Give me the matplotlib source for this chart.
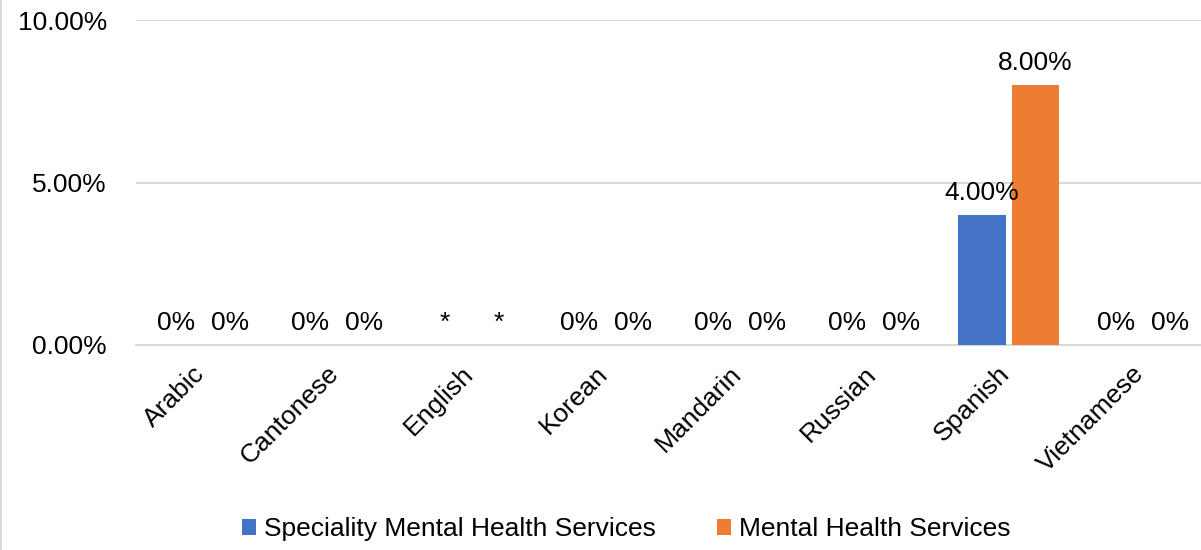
import numpy as np
import matplotlib
matplotlib.use("Agg")
import matplotlib.pyplot as plt
import matplotlib.patches as patches
from matplotlib.lines import Line2D

plt.rcParams['font.family'] = ['Liberation Sans', 'DejaVu Sans']

# share of members by language (percent); None = suppressed, shown as "*"
languages = ['Arabic', 'Cantonese', 'English', 'Korean', 'Mandarin', 'Russian', 'Spanish', 'Vietnamese']
speciality = [0, 0, None, 0, 0, 0, 4.0, 0]
mental_health = [0, 0, None, 0, 0, 0, 8.0, 0]
series_names = ['Speciality Mental Health Services', 'Mental Health Services']
series_colors = ['#4472c4', '#ed7d31']
y_ticks = [0, 5, 10]

FS = 19


def label_text(v):
    if v is None:
        return '*'
    if v == 0:
        return '0%'
    return f'{v:.2f}%'


fig = plt.figure(figsize=(12.01, 5.5), dpi=100)
ax = fig.add_axes([136 / 1201, 1 - 345 / 550, 1074 / 1201, 325 / 550])

x = np.arange(len(languages))
width = 0.357
offsets = [-0.2, 0.2]

for vals, off, col in zip([speciality, mental_health], offsets, series_colors):
    heights = [0 if v is None else v for v in vals]
    ax.bar(x + off, heights, width=width, color=col, zorder=3)
    for xi, v, h in zip(x, vals, heights):
        ax.annotate(label_text(v), (xi + off, h), xytext=(0, 7), textcoords='offset points',
                    ha='center', va='bottom', fontsize=FS, color='#000000', zorder=4)

ax.set_xlim(-0.5, len(languages) - 0.5)
ax.set_ylim(0, 10)
ax.set_yticks(y_ticks)
ax.set_yticklabels([f'{t:.2f}%' for t in y_ticks])
ax.yaxis.grid(True, color='#d9d9d9', linewidth=1.5, zorder=0)
ax.set_axisbelow(True)
ax.tick_params(axis='y', length=0, labelsize=FS, pad=21)
ax.tick_params(axis='x', length=0, labelsize=FS, pad=12)
# rotated labels end just under each category centre
ax.set_xticks(x - 0.08)
ax.set_xticklabels(languages, rotation=45, ha='right', va='top', rotation_mode='anchor')
for side in ['left', 'right', 'top']:
    ax.spines[side].set_visible(False)
ax.spines['bottom'].set_color('#d9d9d9')
ax.spines['bottom'].set_linewidth(1.5)

handles = [patches.Patch(facecolor=c, edgecolor='none') for c in series_colors]
fig.legend(handles, series_names, loc='center', bbox_to_anchor=(626 / 1201, 1 - 529 / 550),
           ncol=2, frameon=False, fontsize=FS, handlelength=0.55, handleheight=0.55,
           handletextpad=0.3, columnspacing=2.3, borderpad=0)

# chart border on the left edge
fig.add_artist(Line2D([1 / 1201, 1 / 1201], [0, 1], color='#d9d9d9', linewidth=1.5,
                      transform=fig.transFigure))

fig.savefig('out.png', dpi=100)
